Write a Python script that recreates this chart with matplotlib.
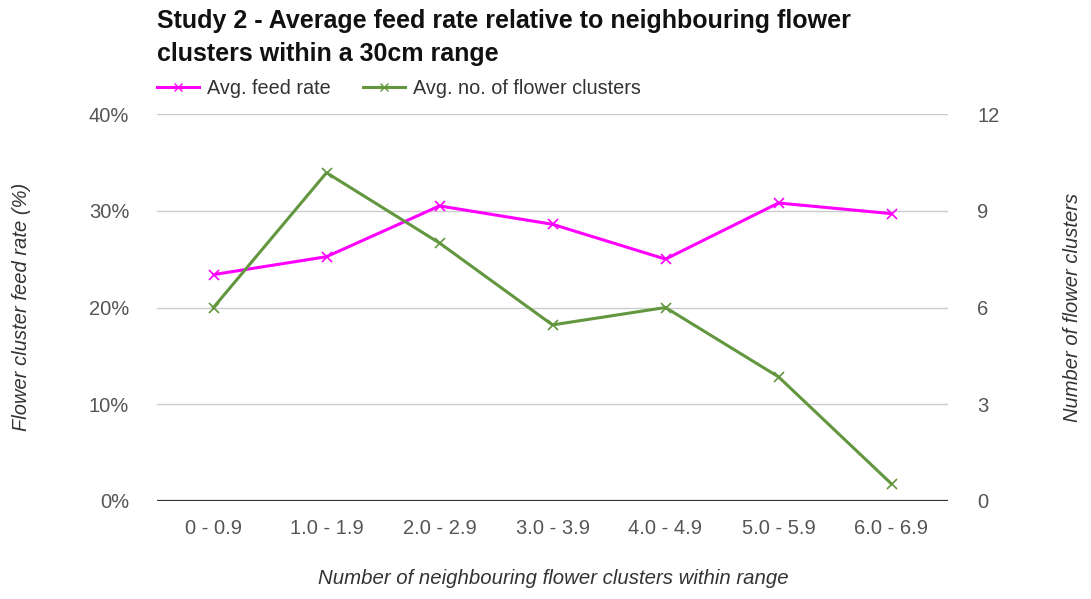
import matplotlib
matplotlib.use("Agg")
import matplotlib.pyplot as plt
from matplotlib.lines import Line2D
from matplotlib.ticker import FuncFormatter

plt.rcParams['font.family'] = ['Liberation Sans', 'DejaVu Sans']

categories = ["0 - 0.9", "1.0 - 1.9", "2.0 - 2.9", "3.0 - 3.9", "4.0 - 4.9", "5.0 - 5.9", "6.0 - 6.9"]
feed_rate = [23.4, 25.25, 30.5, 28.6, 25.0, 30.8, 29.7]
flower_clusters = [6.0, 10.18, 8.0, 5.46, 6.0, 3.85, 0.53]
left_ticks = [0, 10, 20, 30, 40]
right_ticks = [0, 3, 6, 9, 12]

W, H = 1091, 599
fig = plt.figure(figsize=(W / 100, H / 100), dpi=100)
ax = fig.add_axes([157 / W, 1 - 501 / H, (948 - 157) / W, (501 - 114) / H])
ax2 = ax.twinx()

magenta = "#ff00ff"
green = "#62963f"
tick_color = "#555555"

x = list(range(len(categories)))
ax.plot(x, feed_rate, color=magenta, lw=2.2, marker="x", ms=7, mew=1.2, zorder=3)
ax2.plot(x, flower_clusters, color=green, lw=2.2, marker="x", ms=7, mew=1.2, zorder=3)

ax.set_xlim(-0.5, len(categories) - 0.5)
ax.set_ylim(0, 40)
ax2.set_ylim(0, 12)
ax.set_yticks(left_ticks)
ax2.set_yticks(right_ticks)
ax.yaxis.set_major_formatter(FuncFormatter(lambda v, p: f"{v:.0f}%"))
ax.set_xticks(x)
ax.set_xticklabels(categories)

for a in (ax, ax2):
    for s in a.spines.values():
        s.set_visible(False)
    a.tick_params(length=0, labelsize=14.5, labelcolor=tick_color)
ax.tick_params(axis='y', pad=20)
ax2.tick_params(axis='y', pad=21)
ax.tick_params(axis='x', pad=13)

ax.grid(axis='y', color="#cccccc", lw=1)
ax.set_axisbelow(True)
ax.axhline(0, color="#333333", lw=1.6, zorder=2)

fig.text(157 / W, 1 - 9 / H,
         "Study 2 - Average feed rate relative to neighbouring flower\nclusters within a 30cm range",
         ha='left', va='top', fontsize=18, fontweight='bold', color="#111111", linespacing=1.45)

handles = [Line2D([], [], color=magenta, lw=2.2, marker="x", ms=6, mew=1),
           Line2D([], [], color=green, lw=2.2, marker="x", ms=6, mew=1)]
fig.legend(handles, ["Avg. feed rate", "Avg. no. of flower clusters"],
           loc='center left', bbox_to_anchor=(157 / W, 1 - 88 / H), ncol=2, frameon=False,
           fontsize=14.3, handlelength=2.1, handletextpad=0.4, columnspacing=1.65,
           borderpad=0, borderaxespad=0, labelcolor="#333333")

fig.text(553 / W, 1 - 578 / H, "Number of neighbouring flower clusters within range",
         ha='center', va='center', fontsize=14.7, style='italic', color="#333333")
fig.text(22 / W, 1 - 307 / H, "Flower cluster feed rate (%)",
         ha='center', va='center', rotation=90, fontsize=14.5, style='italic', color="#333333")
fig.text(1073 / W, 1 - 307 / H, "Number of flower clusters",
         ha='center', va='center', rotation=90, fontsize=14.5, style='italic', color="#333333")

fig.savefig("out.png", dpi=100)
